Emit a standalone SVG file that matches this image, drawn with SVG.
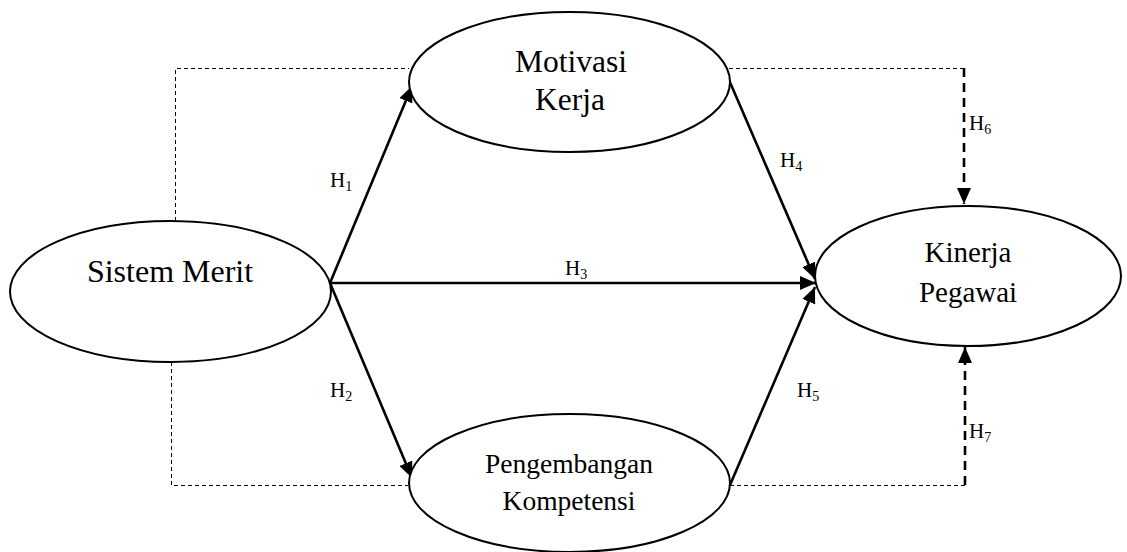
<svg xmlns="http://www.w3.org/2000/svg" width="1127" height="552" viewBox="0 0 1127 552">
<style>
.node{fill:#fff;stroke:#000;stroke-width:2}
text{font-family:'Liberation Serif','DejaVu Serif','Times New Roman',serif;fill:#000}
.t{text-anchor:middle}
.lbl{font-size:21px}
.sub{font-size:14px}
.solid{fill:none;stroke:#000;stroke-width:2.6}
.thin{fill:none;stroke:#000;stroke-width:1;stroke-dasharray:4 3}
.thick{fill:none;stroke:#000;stroke-width:2.6;stroke-dasharray:9 6}
</style>
<defs>
<marker id="ah" markerUnits="userSpaceOnUse" markerWidth="18" markerHeight="14" refX="16" refY="7" orient="auto">
<path d="M0,0 L16,7 L0,14 Z" fill="#000"/>
</marker>
</defs>
<rect width="1127" height="552" fill="#fff"/>
<g id="connectors">
<path class="thin" d="M175.5,221 V68.5 H409"/>
<path class="thin" d="M729,68.5 H964"/>
<path class="thick" d="M964,68 V204" marker-end="url(#ah)"/>
<path class="thin" d="M171.5,362 V485.5 H408"/>
<path class="thin" d="M730,485.5 H965"/>
<path class="thick" d="M965,485 V347" marker-end="url(#ah)"/>
<line class="solid" x1="330" y1="283" x2="412" y2="86" marker-end="url(#ah)"/>
<line class="solid" x1="330" y1="283" x2="412" y2="478" marker-end="url(#ah)"/>
<line class="solid" x1="330" y1="283" x2="816" y2="283" marker-end="url(#ah)"/>
<line class="solid" x1="729" y1="80" x2="815" y2="279" marker-end="url(#ah)"/>
<line class="solid" x1="730" y1="485" x2="815" y2="287" marker-end="url(#ah)"/>
<text class="lbl" x="330" y="187" font-family="Liberation Serif, serif">H<tspan class="sub" dy="4">1</tspan></text>
<text class="lbl" x="330" y="397" font-family="Liberation Serif, serif">H<tspan class="sub" dy="4">2</tspan></text>
<text class="lbl" x="565" y="275" font-family="Liberation Serif, serif">H<tspan class="sub" dy="4">3</tspan></text>
<text class="lbl" x="780" y="167" font-family="Liberation Serif, serif">H<tspan class="sub" dy="4">4</tspan></text>
<text class="lbl" x="797" y="397" font-family="Liberation Serif, serif">H<tspan class="sub" dy="4">5</tspan></text>
<text class="lbl" x="969" y="130" font-family="Liberation Serif, serif">H<tspan class="sub" dy="4">6</tspan></text>
<text class="lbl" x="969" y="438" font-family="Liberation Serif, serif">H<tspan class="sub" dy="4">7</tspan></text>
</g>
<g id="sistem-merit">
<ellipse class="node" cx="170.5" cy="291.5" rx="160.5" ry="70.5"/>
<text class="t" x="170" y="282" font-size="32" font-family="Liberation Serif, serif">Sistem Merit</text>
</g>
<g id="motivasi-kerja">
<ellipse class="node" cx="569.5" cy="82" rx="160.5" ry="70"/>
<text class="t" x="571" y="72" font-size="31.5" font-family="Liberation Serif, serif">Motivasi</text>
<text class="t" x="570" y="110" font-size="31.5" font-family="Liberation Serif, serif">Kerja</text>
</g>
<g id="kinerja-pegawai">
<ellipse class="node" cx="968" cy="276" rx="153" ry="70"/>
<text class="t" x="968" y="262" font-size="29" font-family="Liberation Serif, serif">Kinerja</text>
<text class="t" x="968" y="302" font-size="29" font-family="Liberation Serif, serif">Pegawai</text>
</g>
<g id="pengembangan-kompetensi">
<ellipse class="node" cx="569.5" cy="483" rx="160.5" ry="69"/>
<text class="t" x="569" y="473" font-size="27.5" font-family="Liberation Serif, serif">Pengembangan</text>
<text class="t" x="569" y="510" font-size="27.5" font-family="Liberation Serif, serif">Kompetensi</text>
</g>
</svg>
